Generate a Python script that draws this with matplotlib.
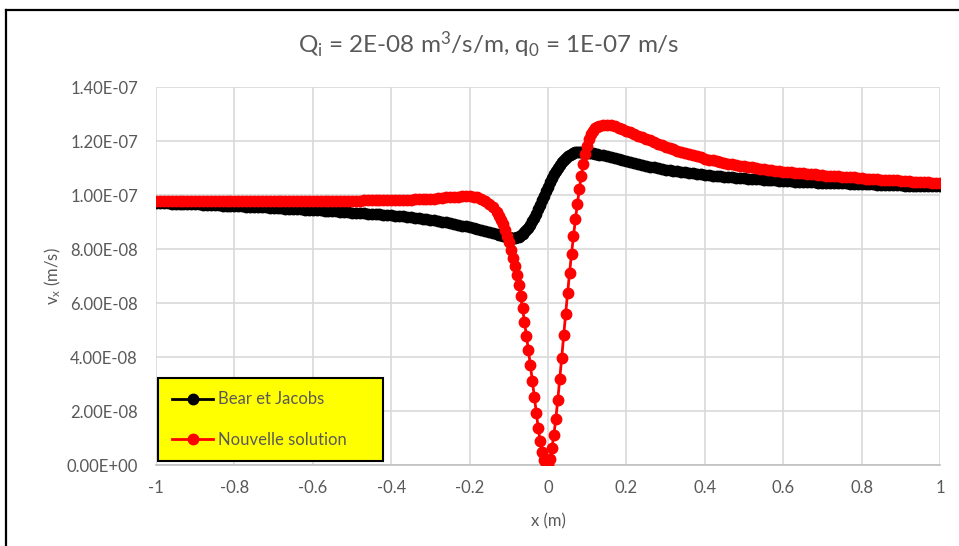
import numpy as np
import matplotlib
matplotlib.use("Agg")
import matplotlib.pyplot as plt
from matplotlib.lines import Line2D
from matplotlib.ticker import FuncFormatter

plt.rcParams['font.family'] = ['Lato', 'DejaVu Sans']
plt.rcParams['mathtext.fontset'] = 'custom'
plt.rcParams['mathtext.rm'] = 'Lato'
plt.rcParams['mathtext.it'] = 'Lato:italic'

# positions x (m) : pas fin autour de la source
x = np.round(np.concatenate([
    np.arange(-1.00, -0.305, 0.01),
    np.arange(-0.30, -0.125, 0.01),
    np.arange(-0.125, 0.126, 0.005),
    np.arange(0.13, 0.305, 0.01),
    np.arange(0.31, 1.005, 0.01),
]), 3)

# vitesses (unités 1E-08 m/s)
bear_jacobs = [
    9.70, 9.70, 9.69, 9.69, 9.68, 9.68, 9.67, 9.67, 9.66, 9.66,
    9.65, 9.65, 9.64, 9.64, 9.63, 9.63, 9.62, 9.61, 9.60, 9.60,
    9.59, 9.59, 9.58, 9.57, 9.56, 9.56, 9.55, 9.55, 9.54, 9.53,
    9.52, 9.52, 9.51, 9.50, 9.49, 9.49, 9.48, 9.47, 9.46, 9.45,
    9.44, 9.44, 9.43, 9.42, 9.41, 9.40, 9.39, 9.38, 9.37, 9.36,
    9.35, 9.34, 9.33, 9.32, 9.31, 9.30, 9.29, 9.28, 9.27, 9.26,
    9.25, 9.24, 9.22, 9.21, 9.19, 9.18, 9.16, 9.14, 9.12, 9.10,
    # -0.30 .. -0.13
    9.08, 9.06, 9.04, 9.01, 8.99, 8.96, 8.93, 8.90, 8.87, 8.84,
    8.80, 8.77, 8.73, 8.70, 8.66, 8.63, 8.59, 8.55,
    # -0.125 .. 0.125
    8.53, 8.51, 8.49, 8.47, 8.45, 8.43, 8.42, 8.41, 8.42, 8.43,
    8.46, 8.50, 8.55, 8.62, 8.70, 8.79, 8.90, 9.02, 9.16, 9.31,
    9.47, 9.63, 9.80, 9.97, 10.14, 10.31, 10.47, 10.62, 10.76, 10.89,
    11.01, 11.12, 11.22, 11.31, 11.38, 11.44, 11.49, 11.53, 11.56, 11.58,
    11.59, 11.60, 11.60, 11.60, 11.59, 11.58, 11.57, 11.56, 11.55, 11.53,
    11.52,
    # 0.13 .. 0.30
    11.50, 11.47, 11.44, 11.40, 11.37, 11.33, 11.29, 11.25, 11.22, 11.18,
    11.15, 11.11, 11.08, 11.05, 11.02, 10.99, 10.97, 10.94,
    # 0.31 .. 1.00
    10.92, 10.90, 10.88, 10.86, 10.84, 10.82, 10.80, 10.78, 10.77, 10.75,
    10.73, 10.72, 10.70, 10.69, 10.68, 10.67, 10.65, 10.64, 10.63, 10.62,
    10.61, 10.60, 10.59, 10.58, 10.57, 10.56, 10.55, 10.54, 10.53, 10.53,
    10.52, 10.51, 10.50, 10.50, 10.49, 10.48, 10.48, 10.47, 10.46, 10.46,
    10.45, 10.45, 10.44, 10.44, 10.43, 10.43, 10.42, 10.42, 10.41, 10.40,
    10.40, 10.39, 10.39, 10.38, 10.38, 10.38, 10.37, 10.37, 10.36, 10.36,
    10.35, 10.35, 10.34, 10.34, 10.34, 10.33, 10.33, 10.33, 10.32, 10.32,
]
nouvelle = [
    9.76, 9.76, 9.76, 9.76, 9.76, 9.76, 9.76, 9.76, 9.76, 9.76,
    9.76, 9.76, 9.76, 9.76, 9.76, 9.76, 9.76, 9.76, 9.76, 9.76,
    9.77, 9.77, 9.77, 9.77, 9.77, 9.77, 9.77, 9.77, 9.77, 9.77,
    9.77, 9.77, 9.77, 9.77, 9.77, 9.77, 9.78, 9.78, 9.78, 9.78,
    9.78, 9.78, 9.78, 9.78, 9.78, 9.78, 9.79, 9.79, 9.79, 9.79,
    9.79, 9.79, 9.79, 9.80, 9.80, 9.80, 9.80, 9.81, 9.81, 9.81,
    9.81, 9.82, 9.82, 9.82, 9.83, 9.83, 9.84, 9.84, 9.85, 9.85,
    # -0.30 .. -0.13
    9.86, 9.87, 9.88, 9.89, 9.91, 9.92, 9.93, 9.94, 9.95, 9.95,
    9.95, 9.94, 9.91, 9.86, 9.78, 9.68, 9.55, 9.37,
    # -0.125 .. 0.125
    9.24, 9.09, 8.91, 8.71, 8.49, 8.25, 7.98, 7.68, 7.36, 7.02,
    6.65, 6.25, 5.80, 5.30, 4.78, 4.25, 3.70, 3.12, 2.52, 1.93,
    1.38, 0.88, 0.48, 0.20, 0.05, 0.00, 0.22, 0.62, 1.12, 1.72,
    2.42, 3.18, 3.98, 4.80, 5.60, 6.38, 7.12, 7.82, 8.48, 9.10,
    9.68, 10.22, 10.72, 11.15, 11.52, 11.82, 12.07, 12.25, 12.38, 12.47,
    12.53,
    # 0.13 .. 0.30
    12.57, 12.61, 12.61, 12.58, 12.54, 12.49, 12.44, 12.38, 12.32, 12.26,
    12.20, 12.14, 12.08, 12.02, 11.96, 11.90, 11.84, 11.79,
    # 0.31 .. 1.00
    11.74, 11.69, 11.64, 11.60, 11.55, 11.51, 11.47, 11.43, 11.39, 11.35,
    11.31, 11.28, 11.25, 11.22, 11.19, 11.16, 11.13, 11.11, 11.08, 11.06,
    11.04, 11.02, 11.00, 10.98, 10.96, 10.94, 10.92, 10.90, 10.89, 10.87,
    10.85, 10.84, 10.82, 10.81, 10.80, 10.78, 10.77, 10.76, 10.74, 10.73,
    10.72, 10.71, 10.70, 10.69, 10.68, 10.67, 10.66, 10.65, 10.63, 10.62,
    10.61, 10.60, 10.59, 10.58, 10.57, 10.56, 10.55, 10.54, 10.54, 10.53,
    10.52, 10.51, 10.50, 10.49, 10.49, 10.48, 10.47, 10.46, 10.45, 10.44,
]

titre = r'Q$_\mathrm{i}$ = 2E-08 m$^\mathrm{3}$/s/m, q$_\mathrm{0}$ = 1E-07 m/s'
xticks = [-1, -0.8, -0.6, -0.4, -0.2, 0, 0.2, 0.4, 0.6, 0.8, 1]
xtick_labels = ['-1', '-0.8', '-0.6', '-0.4', '-0.2', '0', '0.2', '0.4', '0.6', '0.8', '1']
yticks = [0, 2e-8, 4e-8, 6e-8, 8e-8, 1e-7, 1.2e-7, 1.4e-7]

gris = '#595959'

fig = plt.figure(figsize=(9.59, 5.46), dpi=100)
ax = fig.add_axes([156 / 959, 1 - 465 / 546, 784 / 959, 378 / 546])

ax.plot(x, np.array(bear_jacobs) * 1e-8, color='black', lw=2, marker='o', ms=7.5,
        label='Bear et Jacobs', zorder=3)
ax.plot(x, np.array(nouvelle) * 1e-8, color='red', lw=2, marker='o', ms=7.5,
        label='Nouvelle solution', zorder=4)

ax.set_xlim(-1, 1)
ax.set_ylim(0, 1.4e-7)
ax.set_xticks(xticks)
ax.set_xticklabels(xtick_labels)
ax.set_yticks(yticks)
ax.yaxis.set_major_formatter(FuncFormatter(lambda v, p: f"{v:.2E}"))
ax.tick_params(length=0, labelsize=12, labelcolor=gris)
ax.tick_params(axis='x', pad=11)
ax.tick_params(axis='y', pad=13)
ax.grid(True, color='#d9d9d9', lw=1.2)
ax.set_axisbelow(True)
for s in ['top', 'right', 'left']:
    ax.spines[s].set_visible(False)
ax.spines['bottom'].set_color('#bfbfbf')
ax.spines['bottom'].set_linewidth(1.2)

ax.set_xlabel('x (m)', fontsize=12, color=gris, labelpad=12)
ax.set_ylabel(r'v$_\mathrm{x}$ (m/s)', fontsize=12, color=gris, va='center')
ax.yaxis.set_label_coords(-0.131, 0.5)

fig.text(489 / 959, 1 - 45 / 546, titre, fontsize=17.5, color=gris, ha='center', va='center')

leg = ax.legend(loc='lower left', bbox_to_anchor=(0.003, 0.011, 0.286, 0.2), mode='expand',
                borderaxespad=0, fontsize=12, labelcolor=gris, frameon=True, fancybox=False,
                facecolor='#ffff00', edgecolor='black', framealpha=1,
                handlelength=2.5, handletextpad=0.3, labelspacing=1.45, borderpad=0.8)
leg.get_frame().set_linewidth(1.5)

# cadre du graphique
fig.add_artist(Line2D([6 / 959, 1], [1 - 10 / 546, 1 - 10 / 546], color='black', lw=1.6))
fig.add_artist(Line2D([6 / 959, 6 / 959], [0, 1 - 10 / 546], color='black', lw=1.6))

fig.savefig('out.png', dpi=100)
